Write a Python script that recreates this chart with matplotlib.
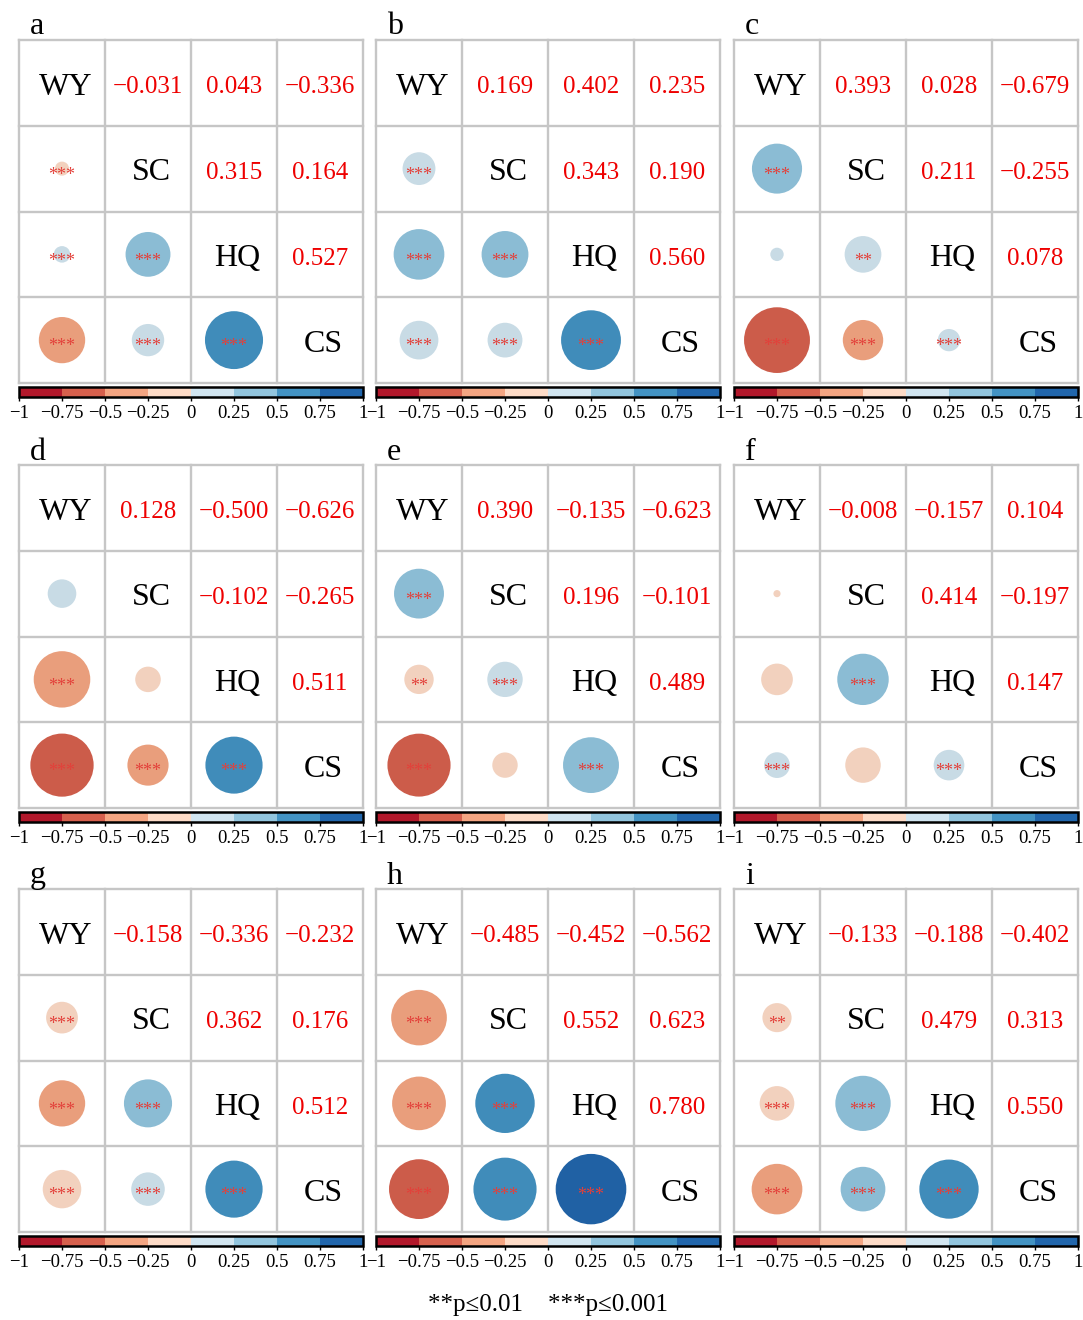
import matplotlib
matplotlib.use("Agg")
import matplotlib.pyplot as plt
import numpy as np
from matplotlib.colors import ListedColormap, BoundaryNorm, to_rgb
from matplotlib.patches import Circle
import matplotlib.colorbar as mcolorbar

plt.rcParams['font.family'] = ['Liberation Serif', 'DejaVu Serif']
plt.rcParams['axes.unicode_minus'] = True

variables = ["WY", "SC", "HQ", "CS"]
panel_letters = ["a", "b", "c", "d", "e", "f", "g", "h", "i"]
# pair order: (WY,SC), (WY,HQ), (WY,CS), (SC,HQ), (SC,CS), (HQ,CS)
r_a = [-0.031, 0.043, -0.336, 0.315, 0.164, 0.527]
r_b = [0.169, 0.402, 0.235, 0.343, 0.190, 0.560]
r_c = [0.393, 0.028, -0.679, 0.211, -0.255, 0.078]
r_d = [0.128, -0.500, -0.626, -0.102, -0.265, 0.511]
r_e = [0.390, -0.135, -0.623, 0.196, -0.101, 0.489]
r_f = [-0.008, -0.157, 0.104, 0.414, -0.197, 0.147]
r_g = [-0.158, -0.336, -0.232, 0.362, 0.176, 0.512]
r_h = [-0.485, -0.452, -0.562, 0.552, 0.623, 0.780]
r_i = [-0.133, -0.188, -0.402, 0.479, 0.313, 0.550]

sig_a = ["***", "***", "***", "***", "***", "***"]
sig_b = ["***", "***", "***", "***", "***", "***"]
sig_c = ["***", "", "***", "**", "***", "***"]
sig_d = ["", "***", "***", "", "***", "***"]
sig_e = ["***", "**", "***", "***", "", "***"]
sig_f = ["", "", "***", "***", "", "***"]
sig_g = ["***", "***", "***", "***", "***", "***"]
sig_h = ["***", "***", "***", "***", "***", "***"]
sig_i = ["**", "***", "***", "***", "***", "***"]

cbar_ticks = [-1, -0.75, -0.5, -0.25, 0, 0.25, 0.5, 0.75, 1]
cbar_ticklabels = ["\u22121", "\u22120.75", "\u22120.5", "\u22120.25", "0", "0.25", "0.5", "0.75", "1"]

all_r = [r_a, r_b, r_c, r_d, r_e, r_f, r_g, r_h, r_i]
all_sig = [sig_a, sig_b, sig_c, sig_d, sig_e, sig_f, sig_g, sig_h, sig_i]
pairs = [(0, 1), (0, 2), (0, 3), (1, 2), (1, 3), (2, 3)]

colors8 = ["#b2182b", "#d6604d", "#f4a582", "#fddbc7",
           "#d1e5f0", "#92c5de", "#4393c3", "#2166ac"]
cmap = ListedColormap(colors8)
norm = BoundaryNorm(cbar_ticks, cmap.N)

W, H = 1083, 1320
fig = plt.figure(figsize=(W / 100, H / 100), dpi=100)

col_x = [19, 376, 734]
row_y = [40, 465, 889]
gw, gh = 344, 343
grid_col = "#c6c6c6"

for k in range(9):
    rr, cc = divmod(k, 3)
    x0, y0 = col_x[cc], row_y[rr]
    ax = fig.add_axes([x0 / W, 1 - (y0 + gh) / H, gw / W, gh / H])
    ax.set_xlim(0, 4)
    ax.set_ylim(4, 0)
    ax.set_xticks([])
    ax.set_yticks([])
    for s in ax.spines.values():
        s.set_visible(False)
    for g in range(5):
        ax.plot([g, g], [0, 4], color=grid_col, lw=1.7, clip_on=False, zorder=1)
        ax.plot([0, 4], [g, g], color=grid_col, lw=1.7, clip_on=False, zorder=1)
    for d, name in enumerate(variables):
        ax.text(d + 0.54, d + 0.55, name, ha="center", va="center",
                fontsize=23, color="black", zorder=3)
    for (i, j), v, sg in zip(pairs, all_r[k], all_sig[k]):
        txt = f"{v:.3f}".replace("-", "\u2212")
        ax.text(j + 0.5, i + 0.55, txt, ha="center", va="center",
                fontsize=18, color="#ee0000", zorder=3)
        col = tuple(c * 0.955 for c in to_rgb(cmap(norm(v))))
        rad = 0.465 * np.sqrt(abs(v))
        ax.add_patch(Circle((i + 0.5, j + 0.5), rad, facecolor=col,
                            edgecolor="none", zorder=2))
        if sg:
            ax.text(i + 0.5, j + 0.58, sg, ha="center", va="center",
                    fontsize=13, color="#e3403a", zorder=4)
    fig.text((x0 + 11) / W, 1 - (y0 - 13) / H, panel_letters[k],
             ha="left", va="center", fontsize=23)

    cax = fig.add_axes([x0 / W, 1 - (y0 + gh + 14) / H, gw / W, 10 / H])
    cb = mcolorbar.ColorbarBase(cax, cmap=cmap, norm=norm, orientation="horizontal",
                                boundaries=cbar_ticks, ticks=cbar_ticks)
    cb.outline.set_linewidth(1.8)
    cb.outline.set_edgecolor("black")
    cax.set_xticklabels(cbar_ticklabels)
    cax.tick_params(axis="x", direction="out", length=3, width=1, labelsize=13.5, pad=3)

fig.text(548 / W, 1 - 1305 / H, "**p\u22640.01    ***p\u22640.001",
         ha="center", va="center", fontsize=18)

fig.savefig("out.png", dpi=100, facecolor="white")
